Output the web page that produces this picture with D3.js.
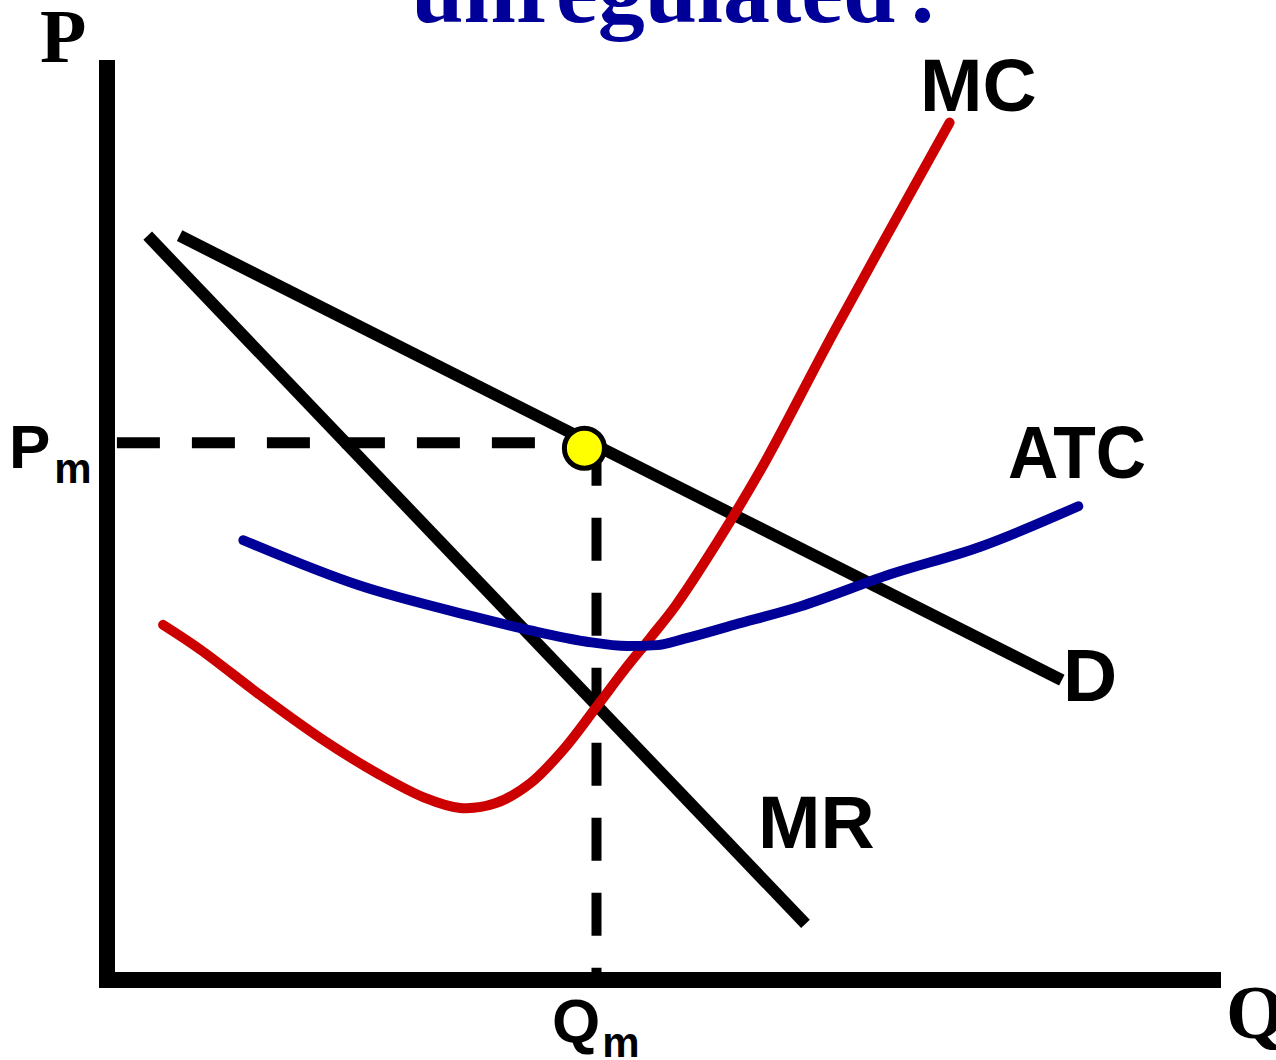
<!DOCTYPE html>
<html>
<head>
<meta charset="utf-8">
<script src="https://cdn.jsdelivr.net/npm/d3@7"></script>
<style>
  html, body { margin: 0; padding: 0; background: #ffffff; }
  svg { display: block; }
</style>
</head>
<body>
<svg id="chart" width="1276" height="1060"></svg>
<script>
// Monopoly diagram: quantity (Q) against price (P), in abstract units 0–100.

const demand = [
  { q: 6.6, p: 80.9 },
  { q: 86.8, p: 32.6 }
];

const marginalRevenue = [
  { q: 3.7, p: 80.9 },
  { q: 63.5, p: 6.1 }
];

const marginalCost = [
  { q: 5.1, p: 38.6 }, { q: 8.5, p: 35.9 }, { q: 13.9, p: 31.0 },
  { q: 19.4, p: 26.3 }, { q: 24.8, p: 22.3 }, { q: 28.9, p: 19.8 },
  { q: 32.1, p: 18.7 }, { q: 35.3, p: 19.2 }, { q: 38.5, p: 21.4 },
  { q: 41.6, p: 25.2 }, { q: 44.5, p: 29.7 }, { q: 47.1, p: 33.8 },
  { q: 49.4, p: 37.2 }, { q: 51.7, p: 40.7 }, { q: 54.8, p: 46.3 },
  { q: 59.4, p: 55.4 }, { q: 66.2, p: 70.7 }, { q: 76.6, p: 93.2 }
];

const averageTotalCost = [
  { q: 12.4, p: 47.8 }, { q: 22.9, p: 42.9 }, { q: 33.0, p: 39.6 },
  { q: 38.5, p: 38.0 }, { q: 43.5, p: 36.8 }, { q: 47.3, p: 36.3 },
  { q: 50.0, p: 36.4 }, { q: 52.5, p: 37.1 }, { q: 57.0, p: 38.6 },
  { q: 63.0, p: 40.6 }, { q: 71.2, p: 44.1 }, { q: 79.4, p: 47.1 },
  { q: 88.3, p: 51.5 }
];

// Profit-maximising output and price
const monopolyQuantity = 44.5;
const monopolyPrice = 58.4;
const monopolyPoint = [{ q: 43.4, p: 57.8 }];

const curveLabels = ["MC", "ATC", "D", "MR"];

const svg = d3.select("#chart");

const x = d3.scaleLinear().domain([0, 100]).range([107, 1207]);
const y = d3.scaleLinear().domain([0, 100]).range([980, 60]);

const line = d3.line().x(d => x(d.q)).y(d => y(d.p));
const smooth = d3.line().x(d => x(d.q)).y(d => y(d.p)).curve(d3.curveCatmullRom.alpha(0.5));
const gentle = d3.line().x(d => x(d.q)).y(d => y(d.p)).curve(d3.curveMonotoneX);

// Title (partly above the visible area)
const title = svg.append("text")
  .attr("x", 675).attr("y", 22)
  .attr("text-anchor", "middle")
  .attr("font-family", "'Liberation Serif', 'Times New Roman', serif")
  .attr("font-weight", "bold")
  .attr("font-size", 94)
  .attr("fill", "#000099");
title.append("tspan").text("unregulated");
title.append("tspan").attr("dx", 12).text(":");

// Dashed guides to Pm and Qm
svg.append("line")
  .attr("x1", x(0.9)).attr("x2", x(monopolyPoint[0].q))
  .attr("y1", y(monopolyPrice)).attr("y2", y(monopolyPrice))
  .attr("stroke", "#000").attr("stroke-width", 11)
  .attr("stroke-dasharray", "43,32");

svg.append("line")
  .attr("x1", x(monopolyQuantity)).attr("x2", x(monopolyQuantity))
  .attr("y1", y(monopolyPrice)).attr("y2", y(0))
  .attr("stroke", "#000").attr("stroke-width", 10)
  .attr("stroke-dasharray", "43,32");

// Marginal revenue and demand
svg.append("path").datum(marginalRevenue)
  .attr("d", line)
  .attr("fill", "none").attr("stroke", "#000").attr("stroke-width", 12);

svg.append("path").datum(demand)
  .attr("d", line)
  .attr("fill", "none").attr("stroke", "#000").attr("stroke-width", 12);

// Marginal cost
svg.append("path").datum(marginalCost)
  .attr("d", smooth)
  .attr("fill", "none").attr("stroke", "#cc0000").attr("stroke-width", 10)
  .attr("stroke-linecap", "round").attr("stroke-linejoin", "round");

// Average total cost
svg.append("path").datum(averageTotalCost)
  .attr("d", gentle)
  .attr("fill", "none").attr("stroke", "#000099").attr("stroke-width", 10)
  .attr("stroke-linecap", "round").attr("stroke-linejoin", "round");

// Monopoly price/quantity point
svg.selectAll("circle.point").data(monopolyPoint).join("circle")
  .attr("class", "point")
  .attr("cx", d => x(d.q)).attr("cy", d => y(d.p))
  .attr("r", 20)
  .attr("fill", "#ffff00").attr("stroke", "#000").attr("stroke-width", 5);

// Axes: vertical bar from the top down, horizontal bar along the bottom
svg.append("line")
  .attr("x1", x(0)).attr("x2", x(0))
  .attr("y1", y(100)).attr("y2", y(0) + 8)
  .attr("stroke", "#000").attr("stroke-width", 16);
svg.append("line")
  .attr("x1", x(0) - 8).attr("x2", 1221)
  .attr("y1", y(0)).attr("y2", y(0))
  .attr("stroke", "#000").attr("stroke-width", 16);

// Axis letters
const serif = "'Liberation Serif', 'Times New Roman', serif";
const sans = "'Liberation Sans', Arial, Helvetica, sans-serif";

svg.append("text").attr("x", 40).attr("y", 62)
  .attr("font-family", serif).attr("font-weight", "bold").attr("font-size", 76)
  .attr("fill", "#000").text("P");

svg.append("text").attr("x", 1226).attr("y", 1038)
  .attr("font-family", serif).attr("font-weight", "bold").attr("font-size", 76)
  .attr("fill", "#000").text("Q");

// Pm and Qm
const pm = svg.append("text").attr("x", 9).attr("y", 468)
  .attr("font-family", sans).attr("font-weight", "bold").attr("fill", "#000");
pm.append("tspan").attr("font-size", 62).text("P");
pm.append("tspan").attr("font-size", 42).attr("dx", 4).attr("dy", 15).text("m");

const qm = svg.append("text").attr("x", 552).attr("y", 1042)
  .attr("font-family", sans).attr("font-weight", "bold").attr("fill", "#000");
qm.append("tspan").attr("font-size", 62).text("Q");
qm.append("tspan").attr("font-size", 42).attr("dx", 2).attr("dy", 15).text("m");

// Curve labels
const labelPos = {
  "MC": { x: 920, y: 111 },
  "ATC": { x: 1008, y: 478, len: 138 },
  "D": { x: 1063, y: 701 },
  "MR": { x: 758, y: 848 }
};
curveLabels.forEach(name => {
  const t = svg.append("text")
    .attr("x", labelPos[name].x).attr("y", labelPos[name].y)
    .attr("font-family", sans).attr("font-weight", "bold").attr("font-size", 75)
    .attr("fill", "#000").text(name);
  if (labelPos[name].len) {
    t.attr("textLength", labelPos[name].len).attr("lengthAdjust", "spacingAndGlyphs");
  }
});
</script>
</body>
</html>
